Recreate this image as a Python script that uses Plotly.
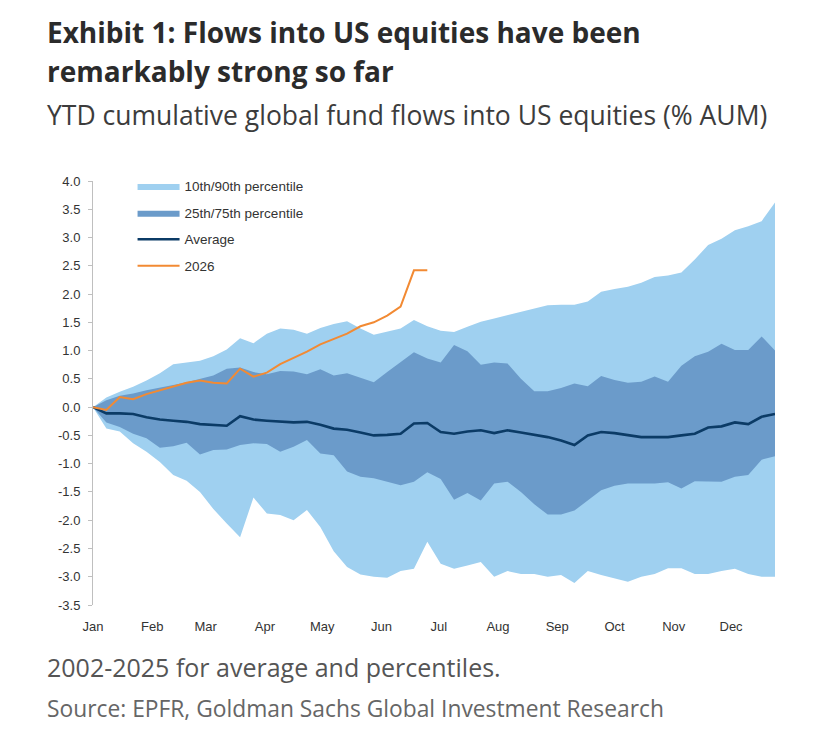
import pandas as pd
import plotly.graph_objects as go

# weekly points, Jan to late Dec
weeks = pd.date_range("2025-01-01", periods=52, freq="7D")

p90 = [0, 0.17, 0.27, 0.36, 0.47, 0.60, 0.76, 0.79, 0.82, 0.90, 1.02, 1.22, 1.13,
       1.30, 1.39, 1.37, 1.30, 1.40, 1.47, 1.52, 1.39, 1.28, 1.34, 1.39, 1.54, 1.43,
       1.35, 1.33, 1.42, 1.51, 1.57, 1.63, 1.68, 1.75, 1.80, 1.81, 1.81, 1.87, 2.04,
       2.09, 2.13, 2.20, 2.30, 2.33, 2.38, 2.61, 2.87, 2.98, 3.13, 3.20, 3.29, 3.62]
p75 = [0, 0.12, 0.20, 0.24, 0.30, 0.34, 0.39, 0.44, 0.50, 0.56, 0.68, 0.70, 0.62,
       0.58, 0.64, 0.63, 0.58, 0.67, 0.56, 0.60, 0.52, 0.44, 0.62, 0.80, 0.97, 0.86,
       0.79, 1.10, 0.99, 0.75, 0.79, 0.77, 0.50, 0.28, 0.28, 0.34, 0.42, 0.37, 0.55,
       0.48, 0.43, 0.45, 0.54, 0.45, 0.73, 0.90, 0.98, 1.12, 1.01, 1.01, 1.25, 1.00]
average = [0, -0.11, -0.11, -0.12, -0.18, -0.22, -0.24, -0.26, -0.30, -0.31, -0.33,
           -0.16, -0.22, -0.24, -0.25, -0.27, -0.26, -0.31, -0.38, -0.40, -0.45, -0.50,
           -0.49, -0.47, -0.29, -0.28, -0.44, -0.47, -0.43, -0.41, -0.46, -0.41, -0.45,
           -0.49, -0.53, -0.59, -0.67, -0.50, -0.44, -0.46, -0.50, -0.53, -0.53, -0.53,
           -0.50, -0.47, -0.36, -0.34, -0.27, -0.30, -0.17, -0.12]
p25 = [0, -0.27, -0.35, -0.47, -0.55, -0.72, -0.69, -0.63, -0.84, -0.76, -0.75,
       -0.67, -0.64, -0.65, -0.79, -0.70, -0.58, -0.82, -0.85, -1.14, -1.23, -1.26,
       -1.32, -1.38, -1.32, -1.15, -1.27, -1.64, -1.52, -1.65, -1.35, -1.32, -1.50,
       -1.72, -1.90, -1.90, -1.83, -1.65, -1.47, -1.39, -1.35, -1.35, -1.35, -1.33,
       -1.44, -1.31, -1.32, -1.32, -1.23, -1.20, -0.93, -0.87]
p10 = [0, -0.38, -0.43, -0.64, -0.79, -0.97, -1.20, -1.30, -1.50, -1.80, -2.06,
       -2.30, -1.60, -1.88, -1.91, -2.00, -1.82, -2.12, -2.55, -2.83, -2.96, -3.00,
       -3.02, -2.90, -2.86, -2.38, -2.77, -2.86, -2.80, -2.74, -3.00, -2.90, -2.95,
       -2.95, -3.00, -2.97, -3.11, -2.90, -2.97, -3.03, -3.09, -3.00, -2.95, -2.85,
       -2.85, -2.95, -2.95, -2.90, -2.86, -2.95, -3.00, -3.00]
flows_2026 = [0, -0.05, 0.18, 0.14, 0.23, 0.30, 0.37, 0.43, 0.47, 0.43, 0.42, 0.68,
              0.54, 0.61, 0.76, 0.87, 0.98, 1.11, 1.21, 1.30, 1.43, 1.50, 1.62, 1.78,
              2.42, 2.42]

y_ticks = [4.0, 3.5, 3.0, 2.5, 2.0, 1.5, 1.0, 0.5, 0.0, -0.5, -1.0, -1.5, -2.0,
           -2.5, -3.0, -3.5]
y_tick_labels = ["4.0", "3.5", "3.0", "2.5", "2.0", "1.5", "1.0", "0.5", "0.0",
                 "-0.5", "-1.0", "-1.5", "-2.0", "-2.5", "-3.0", "-3.5"]

LIGHT = "#9fd0f0"
DARK = "#6b9bca"
NAVY = "#0b3b66"
ORANGE = "#f28a33"

fig = go.Figure()

# outer band 10th-90th
fig.add_trace(go.Scatter(x=weeks, y=p10, mode="lines", line=dict(width=0),
                         showlegend=False, hoverinfo="skip"))
fig.add_trace(go.Scatter(x=weeks, y=p90, mode="lines", line=dict(width=0),
                         fill="tonexty", fillcolor=LIGHT,
                         name="10th/90th percentile", legendgroup="a"))

# inner band 25th-75th
fig.add_trace(go.Scatter(x=weeks, y=p25, mode="lines", line=dict(width=0),
                         showlegend=False, hoverinfo="skip"))
fig.add_trace(go.Scatter(x=weeks, y=p75, mode="lines", line=dict(width=0),
                         fill="tonexty", fillcolor=DARK,
                         name="25th/75th percentile", legendgroup="b"))

fig.add_trace(go.Scatter(x=weeks, y=average, mode="lines",
                         line=dict(color=NAVY, width=2.6),
                         name="Average", legendgroup="c"))
fig.add_trace(go.Scatter(x=weeks[:len(flows_2026)], y=flows_2026, mode="lines",
                         line=dict(color=ORANGE, width=2),
                         name="2026", legendgroup="d"))

# page has an 8px body margin, so the figure is sized to fit the window
fig.update_layout(
    width=804, height=736,
    margin=dict(l=85, r=37, t=173, b=139),
    paper_bgcolor="white", plot_bgcolor="white",
    font=dict(family="Liberation Sans, Arial", size=12, color="#333333"),
    showlegend=True,
    legend=dict(x=0.058, y=1.024, xanchor="left", yanchor="top",
                bgcolor="rgba(0,0,0,0)", traceorder="grouped",
                tracegroupgap=6, itemwidth=42,
                font=dict(size=13.5, color="#333333")),
)

fig.update_xaxes(
    range=[weeks[0], weeks[-1]],
    tickformat="%b", dtick="M1", tick0="2025-01-01",
    showgrid=False, showline=False, ticks="", zeroline=False,
    tickfont=dict(size=13, color="#333333"),
    ticklabelstandoff=12,
)
fig.update_yaxes(
    range=[-3.5, 4.0], tickvals=y_ticks, ticktext=y_tick_labels,
    showgrid=False, showline=True, linecolor="#bfbfbf", linewidth=1,
    ticks="outside", ticklen=4, tickcolor="#bfbfbf",
    zeroline=True, zerolinecolor="#c9d6e2", zerolinewidth=1,
    layer="above traces", ticklabelstandoff=5,
    tickfont=dict(size=13, color="#333333"),
)

TEXT_X = -0.0704
title_font = dict(family="Open Sans", size=28, color="#2b2b2b")
fig.add_annotation(text="<b>Exhibit 1: Flows into US equities have been</b>",
                   xref="paper", yref="paper", x=TEXT_X, y=1.352,
                   xanchor="left", yanchor="middle", showarrow=False, font=title_font)
fig.add_annotation(text="<b>remarkably strong so far</b>",
                   xref="paper", yref="paper", x=TEXT_X, y=1.259,
                   xanchor="left", yanchor="middle", showarrow=False, font=title_font)
fig.add_annotation(text="YTD cumulative global fund flows into US equities (% AUM)",
                   xref="paper", yref="paper", x=TEXT_X, y=1.155,
                   xanchor="left", yanchor="middle", showarrow=False,
                   font=dict(family="Open Sans", size=26.5, color="#3c3c3c"))
fig.add_annotation(text="2002-2025 for average and percentiles.",
                   xref="paper", yref="paper", x=TEXT_X, y=-0.146,
                   xanchor="left", yanchor="middle", showarrow=False,
                   font=dict(family="Open Sans", size=25, color="#555555"))
fig.add_annotation(text="Source: EPFR, Goldman Sachs Global Investment Research",
                   xref="paper", yref="paper", x=TEXT_X, y=-0.245,
                   xanchor="left", yanchor="middle", showarrow=False,
                   font=dict(family="Open Sans", size=22.8, color="#666666"))

fig.write_html("out.html")
